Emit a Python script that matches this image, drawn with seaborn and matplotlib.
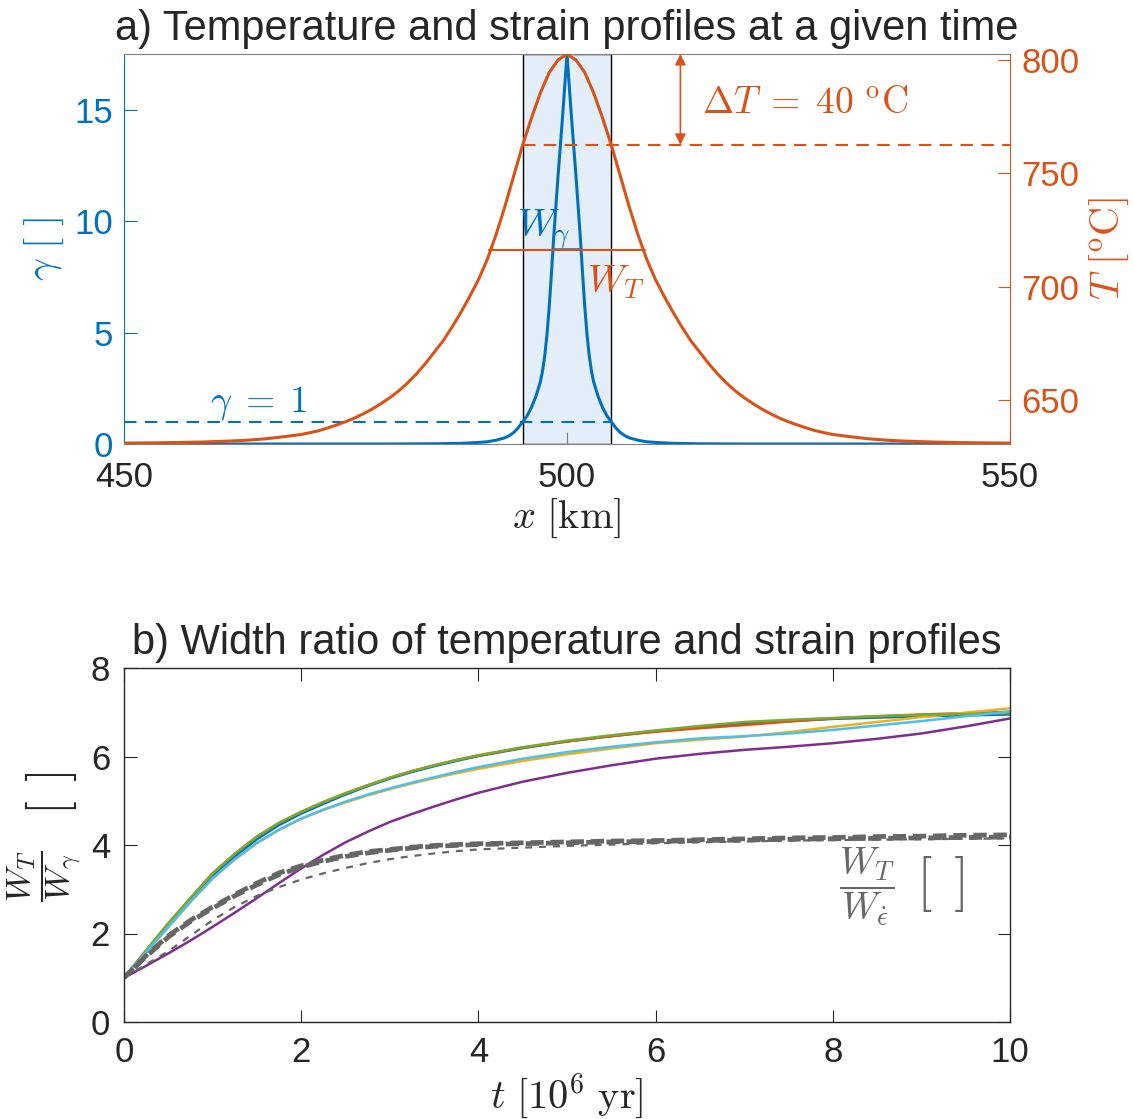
import matplotlib
matplotlib.use("Agg")
import matplotlib.pyplot as plt
import seaborn as sns

# ---------------- data ----------------
# panel a: temperature profile across the shear zone
x_T = [450, 453, 456, 459, 462, 464, 466, 468, 470, 471, 472, 473, 474, 475,
       476, 477, 478, 479, 480, 481, 482, 483, 484, 485, 486, 487, 488, 489,
       490, 491, 492, 493, 494, 495, 496, 497, 498, 499, 500, 501, 502, 503,
       504, 505, 506, 507, 508, 509, 510, 511, 512, 513, 514, 515, 516, 517,
       518, 519, 520, 521, 522, 523, 524, 525, 526, 527, 528, 529, 530, 532,
       534, 536, 538, 541, 544, 547, 550]
T_C = [631.0, 631.1, 631.25, 631.5, 631.9, 632.3, 632.9, 633.8, 634.8, 635.6,
       636.5, 637.7, 639.0, 640.4, 642.0, 643.9, 646.0, 648.4, 651.0, 654.0,
       657.5, 661.5, 666.0, 671.0, 676.0, 682.0, 688.5, 695.5, 703.0, 712.0,
       723.0, 735.5, 749.0, 762.5, 774.5, 785.5, 794.5, 800.0, 802.5, 800.0,
       794.5, 785.5, 774.5, 762.5, 749.0, 735.5, 723.0, 712.0, 703.0, 695.5,
       688.5, 682.0, 676.0, 671.0, 666.0, 661.5, 657.5, 654.0, 651.0, 648.4,
       646.0, 643.9, 642.0, 640.4, 639.0, 637.7, 636.5, 635.6, 634.8, 633.8,
       632.9, 632.3, 631.9, 631.5, 631.25, 631.1, 631.0]

# panel a: accumulated strain profile
x_g = [450, 470, 480, 485, 488, 490, 491, 492, 493, 493.5, 494, 494.5, 495,
       495.5, 496, 496.5, 497, 497.25, 497.5, 497.75, 498, 498.25, 498.5,
       498.75, 499, 499.25, 499.5, 499.75, 500, 500.25, 500.5, 500.75, 501,
       501.25, 501.5, 501.75, 502, 502.25, 502.5, 502.75, 503, 503.5, 504,
       504.5, 505, 505.5, 506, 506.5, 507, 508, 509, 510, 512, 515, 520, 530,
       550]
gamma = [0.0, 0.0, 0.0, 0.01, 0.03, 0.07, 0.10, 0.17, 0.28, 0.38, 0.52, 0.73,
         1.0, 1.27, 1.65, 2.15, 2.80, 3.30, 4.00, 4.95, 6.20, 7.70, 9.30,
         10.70, 12.10, 13.40, 14.70, 16.10, 17.50, 16.10, 14.70, 13.40, 12.10,
         10.70, 9.30, 7.70, 6.20, 4.95, 4.00, 3.30, 2.80, 2.15, 1.65, 1.27,
         1.0, 0.73, 0.52, 0.38, 0.28, 0.17, 0.10, 0.07, 0.03, 0.01, 0.0, 0.0,
         0.0]

# reference levels and widths
gamma_ref = 1.0
x_gamma_ref = [450, 505]
T_ref = 762.5
x_T_ref = [495, 550]
shear_zone = [495, 505]
W_gamma_level = 8.75
x_W_gamma = [498.4, 501.6]
W_T_level = 716.0
x_W_T = [491.2, 508.8]
T_peak = 802.5

# panel b: width ratio through time
t_Myr = [0, 0.25, 0.5, 0.75, 1.0, 1.25, 1.5, 1.75, 2.0, 2.25, 2.5, 2.75, 3.0,
         3.25, 3.5, 3.75, 4.0, 4.5, 5.0, 5.5, 6.0, 6.5, 7.0, 7.5, 8.0, 8.5,
         9.0, 9.5, 10.0]
ratio_blue = [1.0, 1.6, 2.19, 2.76, 3.3, 3.74, 4.13, 4.45, 4.71, 4.93, 5.14,
              5.33, 5.5, 5.65, 5.78, 5.9, 6.01, 6.19, 6.34, 6.46, 6.57, 6.66,
              6.74, 6.8, 6.85, 6.88, 6.91, 6.93, 6.95]
ratio_red = [1.0, 1.62, 2.23, 2.8, 3.36, 3.8, 4.19, 4.5, 4.75, 4.97, 5.17,
             5.35, 5.52, 5.67, 5.8, 5.92, 6.02, 6.2, 6.34, 6.46, 6.56, 6.64,
             6.71, 6.79, 6.86, 6.91, 6.95, 6.98, 7.01]
ratio_yellow = [1.0, 1.57, 2.14, 2.71, 3.24, 3.67, 4.04, 4.34, 4.59, 4.79,
                4.96, 5.12, 5.26, 5.39, 5.51, 5.62, 5.72, 5.9, 6.05, 6.18,
                6.3, 6.38, 6.45, 6.55, 6.67, 6.78, 6.89, 6.99, 7.09]
ratio_purple = [1.0, 1.27, 1.55, 1.84, 2.15, 2.47, 2.8, 3.14, 3.47, 3.78,
                4.06, 4.3, 4.52, 4.7, 4.87, 5.03, 5.18, 5.43, 5.63, 5.8, 5.95,
                6.06, 6.15, 6.22, 6.3, 6.4, 6.52, 6.68, 6.86]
ratio_green = [1.0, 1.62, 2.23, 2.8, 3.36, 3.8, 4.19, 4.5, 4.75, 4.97, 5.17,
               5.35, 5.52, 5.67, 5.8, 5.92, 6.03, 6.21, 6.36, 6.48, 6.59, 6.69,
               6.78, 6.83, 6.87, 6.91, 6.94, 6.96, 6.98]
ratio_lightblue = [1.0, 1.58, 2.15, 2.72, 3.25, 3.68, 4.05, 4.35, 4.6, 4.8,
                   4.98, 5.14, 5.28, 5.41, 5.53, 5.65, 5.76, 5.95, 6.1, 6.22,
                   6.32, 6.41, 6.46, 6.52, 6.6, 6.7, 6.8, 6.91, 7.02]
# strain-rate width ratios (grey dashed)
ratio_rate_a = [1.0, 1.5, 1.95, 2.3, 2.6, 2.88, 3.14, 3.37, 3.53, 3.66, 3.77,
                3.85, 3.9, 3.95, 3.99, 4.01, 4.03, 4.05, 4.07, 4.09, 4.1,
                4.12, 4.14, 4.16, 4.17, 4.19, 4.2, 4.22, 4.23]
ratio_rate_b = [1.0, 1.48, 1.92, 2.27, 2.57, 2.85, 3.1, 3.33, 3.5, 3.63, 3.74,
                3.82, 3.88, 3.93, 3.97, 3.99, 4.01, 4.03, 4.05, 4.07, 4.08,
                4.1, 4.11, 4.13, 4.14, 4.15, 4.16, 4.17, 4.18]
ratio_rate_c = [1.0, 1.3, 1.6, 1.95, 2.3, 2.6, 2.85, 3.05, 3.22, 3.36, 3.48,
                3.59, 3.68, 3.75, 3.81, 3.86, 3.9, 3.94, 3.98, 4.01, 4.04,
                4.06, 4.08, 4.1, 4.11, 4.12, 4.13, 4.14, 4.15]

# ---------------- style ----------------
BLUE = "#0072BD"
ORANGE = "#D95319"
YELLOW = "#EDB120"
PURPLE = "#7E2F8E"
GREEN = "#77AC30"
LIGHTBLUE = "#4DBEEE"
GREY = "#666666"
AXC = "#262626"

sns.set_style("ticks")
plt.rcParams["font.family"] = ["Liberation Sans", "DejaVu Sans"]
plt.rcParams["mathtext.fontset"] = "cm"
plt.rcParams["lines.scale_dashes"] = False

TICK_FS = 25
LAB_FS = 29
TITLE_FS = 30
NOTE_FS = 27

W, H = 1133, 1119
fig = plt.figure(figsize=(W / 100, H / 100), dpi=100)
axa = fig.add_axes([124 / W, 1 - 444 / H, 886 / W, 390 / H])
axb = fig.add_axes([124 / W, 1 - 1022 / H, 886 / W, 354 / H])


def fig_text(px, py, s, **kw):
    """Place text at a pixel position measured from the top-left corner."""
    return fig.text(px / W, 1 - py / H, s, **kw)


# ---------------- panel a ----------------
axT = axa.twinx()
axa.axvspan(shear_zone[0], shear_zone[1], facecolor="#E3EEF8",
            edgecolor="black", lw=1.0, zorder=0)

sns.lineplot(x=x_g, y=gamma, ax=axa, color=BLUE, lw=2.2,
             estimator=None, sort=False)
sns.lineplot(x=x_gamma_ref, y=[gamma_ref, gamma_ref], ax=axa, color=BLUE,
             lw=1.5, ls=(0, (9, 6)), estimator=None)
sns.lineplot(x=x_W_gamma, y=[W_gamma_level, W_gamma_level], ax=axa,
             color=BLUE, lw=1.8, estimator=None)

sns.lineplot(x=x_T, y=T_C, ax=axT, color=ORANGE, lw=2.2,
             estimator=None, sort=False)
sns.lineplot(x=x_T_ref, y=[T_ref, T_ref], ax=axT, color=ORANGE, lw=1.5,
             ls=(0, (9, 6)), estimator=None)
sns.lineplot(x=x_W_T, y=[W_T_level, W_T_level], ax=axT, color=ORANGE,
             lw=1.5, estimator=None)
axT.annotate("", xy=(512.8, T_ref), xytext=(512.8, T_peak + 0.1),
             arrowprops=dict(arrowstyle="<|-|>", color=ORANGE, lw=1.2,
                             mutation_scale=16, shrinkA=0, shrinkB=0))

axa.set_xlim(450, 550)
axa.set_ylim(0, 17.51)
axT.set_ylim(630.6, 802.6)
axa.set_xticks([450, 500, 550])
axa.set_yticks([0, 5, 10, 15])
axT.set_yticks([650, 700, 750, 800])

axa.text(465.2, 1.45, r"$\gamma\;=\;1$", color=BLUE, fontsize=NOTE_FS,
         ha="center", va="baseline")
axa.text(494.4, 9.3, r"$W_\gamma$", color=BLUE, fontsize=NOTE_FS + 1,
         ha="left", va="baseline")
axa.text(502.3, 6.8, r"$W_T$", color=ORANGE, fontsize=NOTE_FS + 1,
         ha="left", va="baseline")
axa.text(515.2, 14.85, r"$\Delta T\;=\;40\ ^{\mathrm{o}}\mathrm{C}$",
         color=ORANGE, fontsize=NOTE_FS, ha="left", va="baseline")

axa.set_xlabel(r"$x\ [\mathrm{km}]$", fontsize=LAB_FS, labelpad=2)
axa.set_ylabel(r"$\gamma\ [\,\,]$", fontsize=LAB_FS, color=BLUE, labelpad=6)
axT.set_ylabel(r"$T\ [^{\mathrm{o}}\mathrm{C}]$", fontsize=LAB_FS,
               color=ORANGE, labelpad=6)
axa.set_title("a) Temperature and strain profiles at a given time",
              fontsize=TITLE_FS, pad=10)

for s in ["top", "bottom"]:
    axa.spines[s].set_color("#808080")
axa.spines["left"].set_color(BLUE)
axa.spines["right"].set_visible(False)
for s in ["top", "bottom", "left"]:
    axT.spines[s].set_visible(False)
axT.spines["right"].set_color(ORANGE)
axa.tick_params(axis="x", direction="in", length=9, colors="#808080",
                labelcolor=AXC, labelsize=TICK_FS, pad=12)
axa.tick_params(axis="y", direction="in", length=9, colors=BLUE,
                labelsize=TICK_FS, pad=8)
axT.tick_params(axis="y", direction="in", length=9, colors=ORANGE,
                labelsize=TICK_FS, pad=8)

# ---------------- panel b ----------------
series = [
    (ratio_blue, BLUE), (ratio_red, ORANGE), (ratio_yellow, YELLOW),
    (ratio_purple, PURPLE), (ratio_green, GREEN), (ratio_lightblue, LIGHTBLUE),
]
for vals, col in series:
    sns.lineplot(x=t_Myr, y=vals, ax=axb, color=col, lw=1.8,
                 estimator=None, sort=False)
sns.lineplot(x=t_Myr, y=ratio_rate_a, ax=axb, color=GREY, lw=3.4,
             ls=(0, (9.5, 5)), estimator=None)
sns.lineplot(x=t_Myr, y=ratio_rate_b, ax=axb, color=GREY, lw=3.4,
             ls=(4, (9.5, 5)), estimator=None)
sns.lineplot(x=t_Myr, y=ratio_rate_c, ax=axb, color=GREY, lw=1.6,
             ls=(0, (5, 5)), estimator=None)

# grey annotation for the strain-rate width ratio
fig_text(867, 887, r"$\dfrac{W_T}{W_{\dot{\epsilon}}}$", color=GREY,
         fontsize=NOTE_FS, ha="center", va="center")
fig_text(940, 884, r"$[\;\,]$", color=GREY, fontsize=40,
         ha="center", va="center")

axb.set_xlim(0, 10)
axb.set_ylim(0, 8)
axb.set_xticks([0, 2, 4, 6, 8, 10])
axb.set_yticks([0, 2, 4, 6, 8])
axb.set_xlabel(r"$t\ [10^6\ \mathrm{yr}]$", fontsize=LAB_FS, labelpad=2)
# y label of panel b: ratio followed by large unit brackets
fig_text(45, 876, r"$\dfrac{W_T}{W_\gamma}$", color=AXC, fontsize=25,
         rotation=90, ha="center", va="center")
fig_text(51, 793, r"$[\;\,]$", color=AXC, fontsize=36,
         rotation=90, ha="center", va="center")
axb.set_title("b) Width ratio of temperature and strain profiles",
              fontsize=TITLE_FS, pad=10)
for s in axb.spines.values():
    s.set_color(AXC)
    s.set_linewidth(1.0)
axb.tick_params(direction="in", length=9, top=True, right=True,
                colors=AXC, labelsize=TICK_FS, pad=10)

fig.savefig("out.png", dpi=100)
